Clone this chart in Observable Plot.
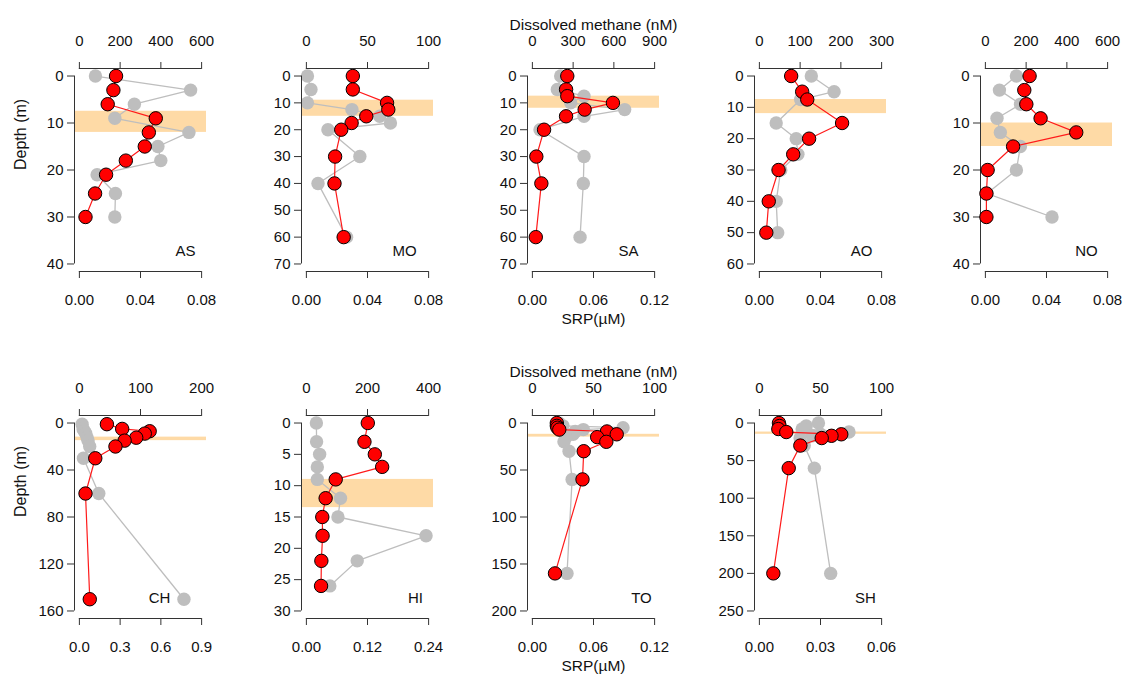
<!DOCTYPE html>
<html><head><meta charset="utf-8">
<script src="https://cdn.jsdelivr.net/npm/d3@7"></script>
<script src="https://cdn.jsdelivr.net/npm/@observablehq/plot@0.6"></script>
<style>
body{margin:0;background:#fff;}
#chart{position:relative;width:1127px;height:677px;font-family:"Liberation Sans",Arial,Helvetica,sans-serif;}
#chart svg{position:absolute;background:none !important;overflow:visible;}
</style></head><body><div id="chart"></div>
<script>
// Stations (panel labels)
const stations = ["AS","MO","SA","AO","NO","CH","HI","TO","SH"];

// Sampling depths (m) per station
const depthAS = [0,3,6,9,12,15,18,21,25,30];
const depthMO = [0,5,10,12.5,15,17.5,20,30,40,60];
const depthSA = [0,5,7.5,10,12.5,15,20,30,40,60];
const depthAO = [0,5,7.5,15,20,25,30,40,50];
const depthNO = [0,3,6,9,12,15,20,25,30];
const depthCH = [1,5,7,9,12.5,15,20,30,60,150];
const depthHI = [0,3,5,7,9,12,15,18,22,26];
const depthTO = [0,3,5,7,9,12,15,20,30,60,160];
const depthSH = [0,4,8,12,15,17,20,30,60,200];

// Dissolved methane (nM) – red
const methAS = [180,167,139,375,341,321,228,131,77,30];
const methMO = [38,38,66,67,49,37,28.5,23.5,23,30.5];
const methSA = [257,248,257,593,385,248,86,29,66,25];
const methAO = [78,105,117.5,203,122,83,47,23,17];
const methNO = [217,191,201,271,446,136,11,5,5];
const methCH = [45,70,115,107,93,74,59,26,10,17];
const methHI = [201,190,224,248,96,63,52,53,49,48];
const methTO = [20,20,20.5,22,61,69,53,60.5,42,41,18.5];
const methSH = [16,16.5,15.5,22,67,59,51,33.5,24,11.4];

// SRP (µM) – grey
const srpAS = [0.0105,0.0728,0.036,0.0232,0.0717,0.0514,0.0533,0.0116,0.0236,0.0232];
const srpMO = [0.0007,0.003,0.0007,0.0298,0.048,0.055,0.0141,0.035,0.0076,0.0263];
const srpSA = [0.0278,0.0245,0.0507,0.0376,0.0906,0.0507,0.0075,0.0507,0.05,0.0468];
const srpAO = [0.034,0.0489,0.027,0.011,0.0241,0.0252,0.014,0.011,0.012];
const srpNO = [0.0203,0.0092,0.023,0.0076,0.0098,0.0229,0.0203,0.001,0.0436];
const srpCH = [0.02,0.027,0.037,0.047,0.057,0.064,0.076,0.03,0.143,0.77];
const srpHI = [0.0196,0.02,0.026,0.0215,0.0215,0.067,0.062,0.235,0.0998,0.046];
const srpTO = [0.026,0.03,0.089,0.05,0.042,0.04,0.033,0.031,0.036,0.039,0.034];
const srpSH = [0.029,0.023,0.021,0.044,0.03,0.026,0.02,0.022,0.027,0.035];

// Shaded depth layer (m): [top, bottom]
const bandTop    = [7.5, 9, 7.5, 7.5, 10, 12, 9, 12, 12];
const bandBottom = [12, 15, 12, 12, 15, 15, 13.5, 15, 15];

// Axis ticks
const depthTicks = [
  [0,10,20,30,40],[0,10,20,30,40,50,60,70],[0,10,20,30,40,50,60,70],
  [0,10,20,30,40,50,60],[0,10,20,30,40],[0,40,80,120,160],
  [0,5,10,15,20,25,30],[0,50,100,150,200],[0,50,100,150,200,250]];
const methTicks = [
  [0,200,400,600],[0,50,100],[0,300,600,900],[0,100,200,300],[0,200,400,600],
  [0,100,200],[0,200,400],[0,50,100],[0,50,100]];
const srpTicks = [
  [0,0.04,0.08],[0,0.04,0.08],[0,0.06,0.12],[0,0.04,0.08],[0,0.04,0.08],
  [0,0.3,0.6,0.9],[0,0.12,0.24],[0,0.06,0.12],[0,0.03,0.06]];
const srpDigits = [2,2,2,2,2,1,2,2,2];

// Text
const methaneTitle = "Dissolved methane (nM)";
const srpTitle = "SRP(\u00b5M)";
const depthTitle = "Depth (m)";

const depths = [depthAS,depthMO,depthSA,depthAO,depthNO,depthCH,depthHI,depthTO,depthSH];
const meths = [methAS,methMO,methSA,methAO,methNO,methCH,methHI,methTO,methSH];
const srps = [srpAS,srpMO,srpSA,srpAO,srpNO,srpCH,srpHI,srpTO,srpSH];

// label offsets from frame bottom-right
const labelDx = [-21,-29,-31,-25,-26,-47,-18,-18,-21];

const bandColor = "rgb(254,218,166)";
const greyColor = "#bebebe";
const axisColor = "#333";
const font = '"Liberation Sans", Arial, Helvetica, sans-serif';

const chart = document.getElementById("chart");

function ext(max){ return [-0.04*max, 1.04*max]; }

stations.forEach((s, i) => {
  const row = i < 5 ? 0 : 1;
  const col = i < 5 ? i : i - 5;
  const dMax = depthTicks[i][depthTicks[i].length-1];
  const xMax = srpTicks[i][srpTicks[i].length-1];
  const mMax = methTicks[i][methTicks[i].length-1];
  const data = depths[i].map((d,k) => ({depth:d, meth:meths[i][k], srp:srps[i][k]}));
  const common = {
    width:226, height:346, marginLeft:74, marginRight:20, marginTop:68, marginBottom:75,
    style:{background:"none", overflow:"visible", fontFamily:font, fontSize:"15px", color:"#111"},
    y:{domain:ext(dMax), reverse:true, label:null, axis:null}
  };
  const marksA = [
    Plot.rect([[bandTop[i], bandBottom[i]]], {x1: ext(xMax)[0], x2: ext(xMax)[1], y1: b=>b[0], y2: b=>b[1], fill: bandColor}),
    Plot.line(data, {x:"srp", y:"depth", stroke:greyColor, strokeWidth:1.3}),
    Plot.dot(data, {x:"srp", y:"depth", r:6.7, fill:greyColor}),
    Plot.axisX({anchor:"bottom", ticks:srpTicks[i], tickFormat:d3.format("."+srpDigits[i]+"f"), tickSize:7, tickPadding:16, label:null, stroke:axisColor}),
    Plot.ruleY([ext(dMax)[1]], {x1:0, x2:xMax, stroke:axisColor}),
    Plot.axisY({anchor:"left", ticks:depthTicks[i], tickFormat:d3.format("d"), tickSize:7, tickPadding:4, label:null, stroke:axisColor}),
    Plot.ruleX([ext(xMax)[0]], {y1:0, y2:dMax, stroke:axisColor})
  ];
  if (col === 2) marksA.push(Plot.text([srpTitle], {frameAnchor:"bottom", dy:52, fontSize:15.5}));
  if (col === 0) marksA.push(Plot.text([depthTitle], {frameAnchor:"left", dx:-54, rotate:-90, fontSize:16}));
  const A = Plot.plot({...common, x:{domain:ext(xMax), label:null, axis:null}, marks:marksA});

  const marksB = [
    Plot.line(data, {x:"meth", y:"depth", stroke:"#ff1a1a", strokeWidth:1.2}),
    Plot.dot(data, {x:"meth", y:"depth", r:6.7, fill:"#ff0000", stroke:"#000", strokeWidth:1}),
    Plot.axisX({anchor:"top", ticks:methTicks[i], tickFormat:d3.format("d"), tickSize:7, tickPadding:16, label:null, stroke:axisColor}),
    Plot.ruleY([ext(dMax)[0]], {x1:0, x2:mMax, stroke:axisColor}),
    Plot.text([s], {frameAnchor:"bottom-right", dx:labelDx[i], dy:-16, textAnchor:"middle", fontSize:15})
  ];
  if (col === 2) marksB.push(Plot.text([methaneTitle], {frameAnchor:"top", dy:-50, fontSize:15.5}));
  const B = Plot.plot({...common, x:{domain:ext(mMax), label:null, axis:null}, marks:marksB});

  for (const svg of [A,B]) {
    svg.style.left = (col*226.5) + "px";
    svg.style.top = (row*346.5) + "px";
    chart.appendChild(svg);
  }
});
</script>
</body></html>
